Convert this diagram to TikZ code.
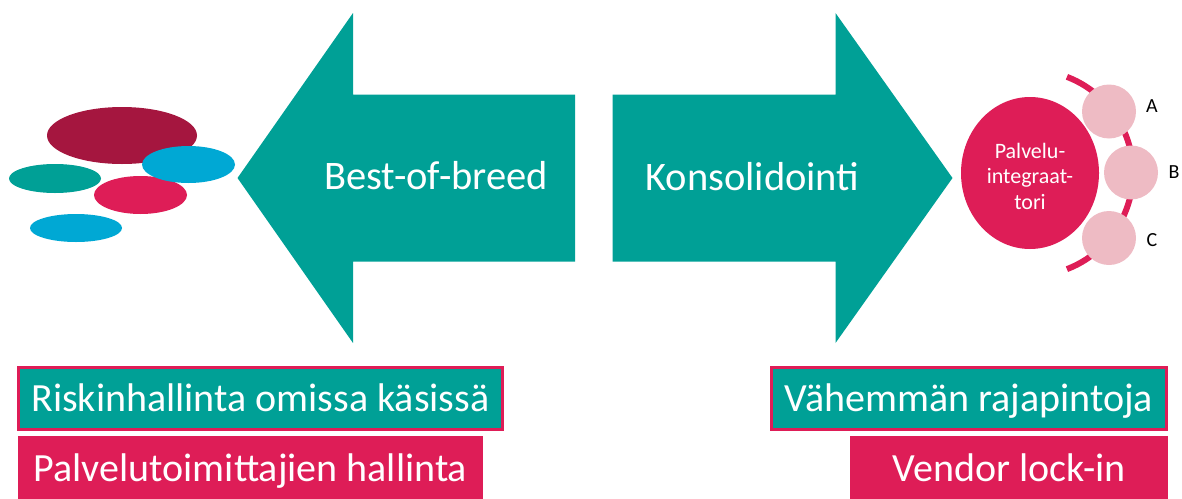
\documentclass[tikz,border=0pt]{standalone}
\usepackage{fontspec}
\setmainfont{Carlito}
\usetikzlibrary{shapes.geometric}
\definecolor{teal1}{RGB}{0,160,150}
\definecolor{pink1}{RGB}{222,29,87}
\definecolor{maroon1}{RGB}{165,22,63}
\definecolor{blue1}{RGB}{0,168,212}
\definecolor{lpink}{RGB}{238,187,196}
\tikzset{
  bigtxt/.style={text=white,font=\fontsize{40.5}{48}\selectfont,inner sep=0pt},
  tealbox/.style={rectangle,fill=teal1,draw=pink1,line width=3pt,text=white,
    font=\fontsize{40}{48}\selectfont,inner sep=0pt,text height=28pt,text depth=2pt},
  pinkbox/.style={rectangle,fill=pink1,text=white,
    font=\fontsize{40}{48}\selectfont,inner sep=0pt,text height=28pt,text depth=2pt},
  sub/.style={circle,fill=lpink,minimum size=54pt,inner sep=0pt},
  sublabel/.style={font=\fontsize{20}{22}\selectfont,inner sep=0pt,text=black},
  blob/.style={ellipse,inner sep=0pt}
}
\begin{document}
\begin{tikzpicture}[x=1pt,y=-1pt]
\useasboundingbox (0,0) rectangle (1182,498);
% left ellipses
\node[blob,fill=maroon1,minimum width=150pt,minimum height=57pt] (e1) at (122,135.5) {};
\node[blob,fill=teal1,minimum width=92pt,minimum height=29pt] (e2) at (55,178.5) {};
\node[blob,fill=pink1,minimum width=93pt,minimum height=38pt] (e3) at (140.5,195) {};
\node[blob,fill=blue1,minimum width=92pt,minimum height=28pt] (e4) at (76,228) {};
\node[blob,fill=blue1,minimum width=93pt,minimum height=37pt] (e5) at (188.5,164.5) {};
% arrows
\fill[teal1] (237.5,178) -- (353,13) -- (353,94.5) -- (575,94.5) -- (575,261.5) -- (353,261.5) -- (353,343) -- cycle;
\fill[teal1] (952.5,178) -- (835.5,13) -- (835.5,94.5) -- (612.5,94.5) -- (612.5,261.5) -- (835.5,261.5) -- (835.5,343) -- cycle;
\node[bigtxt,anchor=base] (bob) at (436,189) {Best-of-breed};
\node[bigtxt,anchor=base] (kon) at (752.5,190) {Konsolidointi};
% integrator
\draw[pink1,line width=6pt] (1030,173) ++(69:103pt) arc[start angle=69,end angle=-69,radius=103pt];
\node[ellipse,fill=pink1,minimum width=138pt,minimum height=152pt,inner sep=0pt] (pi) at (1030,173) {};
\node[text=white,align=center,font=\fontsize{22}{25.5}\selectfont,inner sep=0pt] (pit) at (1030,176) {Palvelu-\\integraat-\\tori};
\node[sub] (ca) at (1109,111.5) {};
\node[sub] (cb) at (1131,172.5) {};
\node[sub] (cc) at (1109,238) {};
\node[sublabel] (la) at (1152,106) {A};
\node[sublabel] (lb) at (1174,172) {B};
\node[sublabel] (lc) at (1152,240) {C};
% boxes
\node[tealbox,minimum width=484pt,minimum height=62pt] (r1) at (260.5,398.5) {Riskinhallinta omissa käsissä};
\node[pinkbox,minimum width=465pt,minimum height=65pt] (r2) at (250.5,468.5) {Palvelutoimittajien hallinta};
\node[tealbox,minimum width=395pt,minimum height=62pt] (v1) at (969,398.5) {Vähemmän rajapintoja};
\node[pinkbox,minimum width=318pt,minimum height=65pt] (v2) at (1009,468.5) {Vendor lock-in};
\end{tikzpicture}
\end{document}
